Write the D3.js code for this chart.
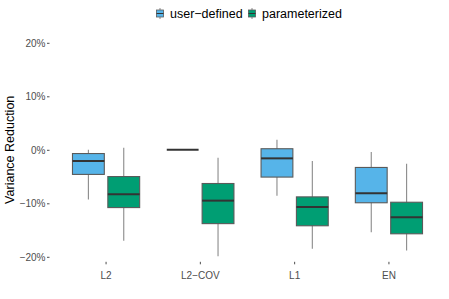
<!DOCTYPE html>
<html>
<head>
<meta charset="utf-8">
<script src="https://cdn.jsdelivr.net/npm/d3@7"></script>
<style>
  body { margin: 0; background: #fff; }
  svg { font-family: "Liberation Sans", Arial, sans-serif; }
  .tick text { fill: #4d4d4d; font-size: 9.5px; }
  .tick line { stroke: #4d4d4d; }
  .domain { display: none; }
</style>
</head>
<body>
<svg width="449" height="299"></svg>
<script>
// categories along the x axis and the two groups that are dodged
var categories = ["L2", "L2\u2212COV", "L1", "EN"];
var groups = ["user\u2212defined", "parameterized"];
var colors = ["#56B4E9", "#009E73"];

// box stats in % : [lower whisker, q1, median, q3, upper whisker]
var userDefined = [
    [-9.3, -4.6, -2.1, -0.7, 0.0],
    [0, 0, 0, 0, 0],
    [-8.6, -5.1, -1.6, 0.2, 1.9],
    [-15.4, -9.9, -8.1, -3.3, -0.4]
];
var parameterized = [
    [-17.0, -10.8, -8.3, -5.0, 0.4],
    [-19.9, -13.8, -9.5, -6.3, -1.5],
    [-18.5, -14.2, -10.7, -8.8, -2.1],
    [-18.8, -15.7, -12.6, -9.8, -2.6]
];
var yTicks = [-20, -10, 0, 10, 20];

var series = [userDefined, parameterized];

var svg = d3.select('svg');
var panel = {l: 49.5, r: 445.5, t: 42.8, b: 256.8};

var xScale = d3.scaleBand()
    .domain(categories)
    .range([panel.l, panel.r])
    .paddingInner(0)
    .paddingOuter(0.1);

var dodgeWidth = xScale.bandwidth() * 0.75;
var xGroup = d3.scaleBand()
    .domain(groups)
    .range([-dodgeWidth / 2, dodgeWidth / 2]);
var boxWidth = xGroup.bandwidth() * 0.9;

var yScale = d3.scaleLinear()
    .domain([-20, 20])
    .range([panel.b, panel.t]);

// y axis
svg.append('g')
    .attr('transform', 'translate(' + panel.l + ',0)')
    .call(d3.axisLeft(yScale).tickValues(yTicks)
        .tickFormat(function(d) { return (d < 0 ? "\u2212" + (-d) : d) + "%"; })
        .tickSize(2.5).tickPadding(1.5));

// x axis
svg.append('g')
    .attr('transform', 'translate(0,' + (panel.b + 5) + ')')
    .call(d3.axisBottom(xScale).tickSize(2.5).tickPadding(8));

svg.selectAll('.tick text').style('font-size', '10px');

// y axis title
svg.append('text')
    .attr('transform', 'translate(14,' + ((panel.t + panel.b) / 2) + ') rotate(-90)')
    .attr('text-anchor', 'middle')
    .style('font-size', '12.5px')
    .style('fill', '#000')
    .text('Variance Reduction');

// boxes
var boxes = [];
series.forEach(function(s, gi) {
    s.forEach(function(v, ci) {
        boxes.push({cat: categories[ci], group: groups[gi], color: colors[gi], v: v});
    });
});

var boxG = svg.selectAll('.box')
    .data(boxes)
    .enter()
    .append('g')
    .attr('class', 'box')
    .attr('transform', function(d) {
        return 'translate(' + (xScale(d.cat) + xScale.bandwidth() / 2 + xGroup(d.group) + xGroup.bandwidth() / 2) + ',0)';
    });

boxG.append('line')
    .attr('x1', 0).attr('x2', 0)
    .attr('y1', function(d) { return yScale(d.v[0]); })
    .attr('y2', function(d) { return yScale(d.v[4]); })
    .attr('stroke', '#8a8a8a')
    .attr('stroke-width', 1.1);

boxG.filter(function(d) { return d.v[3] > d.v[1]; })
    .append('rect')
    .attr('x', -boxWidth / 2)
    .attr('width', boxWidth)
    .attr('y', function(d) { return yScale(d.v[3]); })
    .attr('height', function(d) { return yScale(d.v[1]) - yScale(d.v[3]); })
    .attr('fill', function(d) { return d.color; })
    .attr('stroke', '#5a5a5a')
    .attr('stroke-width', 1.1);

boxG.append('line')
    .attr('x1', -boxWidth / 2).attr('x2', boxWidth / 2)
    .attr('y1', function(d) { return yScale(d.v[2]); })
    .attr('y2', function(d) { return yScale(d.v[2]); })
    .attr('stroke', '#333333')
    .attr('stroke-width', 2);

// legend
var legend = svg.append('g').attr('transform', 'translate(156,7)');
var legendX = [0, 92];
groups.forEach(function(g, i) {
    var lg = legend.append('g').attr('transform', 'translate(' + legendX[i] + ',0)');
    lg.append('line').attr('x1', 4).attr('x2', 4).attr('y1', 1).attr('y2', 12)
        .attr('stroke', '#8a8a8a');
    lg.append('rect').attr('x', 0.5).attr('y', 3).attr('width', 7).attr('height', 7)
        .attr('fill', colors[i]).attr('stroke', '#5a5a5a').attr('stroke-width', 0.8);
    lg.append('line').attr('x1', 0.5).attr('x2', 7.5).attr('y1', 6.5).attr('y2', 6.5)
        .attr('stroke', '#333').attr('stroke-width', 1);
    lg.append('text').attr('x', 14).attr('y', 11)
        .style('font-size', '12.5px')
        .text(g);
});
</script>
</body>
</html>
